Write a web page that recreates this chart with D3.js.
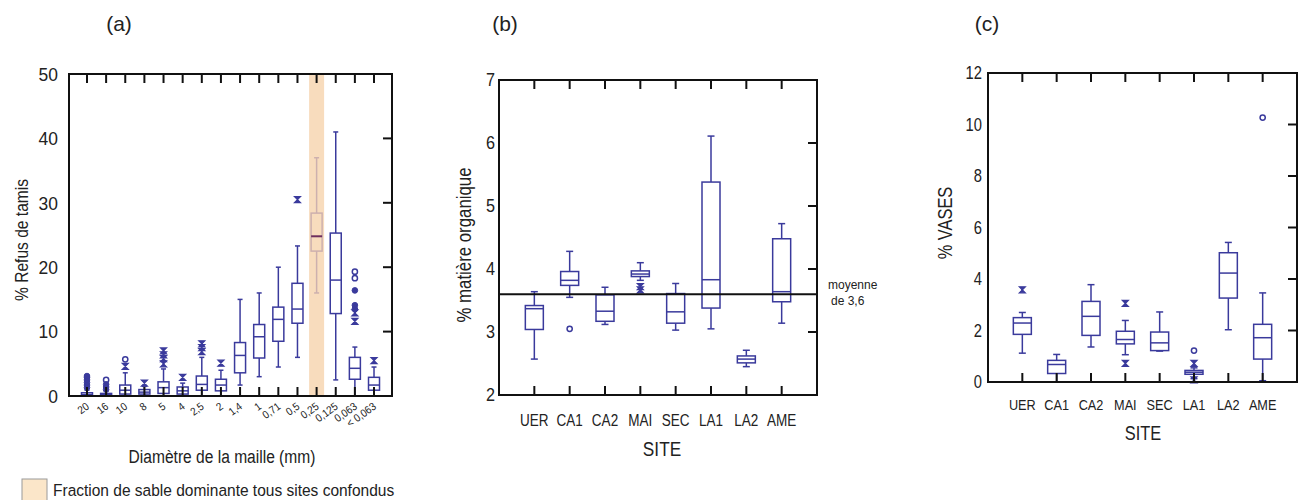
<!DOCTYPE html>
<html><head><meta charset="utf-8">
<script src="https://cdn.jsdelivr.net/npm/d3@7"></script>
<style>
body{margin:0;background:#fff}
text{font-family:"Liberation Sans",Arial,sans-serif;fill:#222}
</style>
</head><body><svg id="chart" width="1299" height="500"></svg>
<script>
// ---------- Panel (a) data : sieve sizes ----------
const sieveSizes = ["20","16","10","8","5","4","2,5","2","1,4","1","0,71","0,5","0,25","0,125","0,063","< 0,063"];
const sieveLow    = [0,   0,   0,   0,   0,   0,   0,   0,   1.7, 3.0, 4.5, 6.0, 16.0, 2.5, 0,   0];
const sieveQ1     = [0,   0,   0.3, 0.3, 0.4, 0.3, 0.9, 0.8, 3.6, 5.9, 8.5, 11.3,22.5, 12.8,2.6, 0.9];
const sieveMedian = [0.2, 0.2, 0.9, 0.6, 1.3, 0.8, 1.8, 1.7, 6.3, 9.2, 11.9,13.5,24.8, 18.0,4.3, 1.7];
const sieveQ3     = [0.5, 0.4, 1.7, 1.0, 2.2, 1.4, 3.1, 2.6, 8.3, 11.1,13.8,17.5,28.4, 25.3,6.0, 2.9];
const sieveHigh   = [0.9, 0.8, 3.6, 1.5, 4.2, 2.0, 6.0, 4.0, 15.0,16.0,20.0,23.3,37.0, 41.0,7.6, 4.5];
const sieveOpenOut   = [[],[2.5],[5.7],[],[],[],[],[],[],[],[],[],[],[],[18.3,19.3],[]];
const sieveFilledOut = [[1.3,1.7,2.1,2.5,2.9,3.1],[1.0,1.4,1.8],[],[],[],[],[],[],[],[],[],[],[],[],[13.5,14.1,16.4],[]];
const sieveCrossOut  = [[],[],[4.6],[2.0],[5.0,5.8,6.4,7.0],[2.9],[6.9,7.5,8.1],[5.1],[],[],[],[30.5],[],[],[11.6,12.9],[5.5]];
const sieveDominant = "0,25";
const sieveTicks = [0,10,20,30,40,50];

// ---------- Panel (b) data : organic matter ----------
const sites = ["UER","CA1","CA2","MAI","SEC","LA1","LA2","AME"];
const omLow    = [2.57,3.55,3.12,3.82,3.03,3.05,2.45,3.14];
const omQ1     = [3.04,3.74,3.17,3.88,3.14,3.38,2.51,3.48];
const omMedian = [3.37,3.82,3.33,3.92,3.32,3.83,2.57,3.64];
const omQ3     = [3.42,3.96,3.59,3.97,3.61,5.38,2.62,4.48];
const omHigh   = [3.64,4.28,3.71,4.10,3.77,6.11,2.71,4.72];
const omOpenOut  = [[],[3.05],[],[],[],[],[],[]];
const omCrossOut = [[],[],[],[3.72,3.67],[],[],[],[]];
const omMean = 3.6;
const omTicks = [2,3,4,5,6,7];

// ---------- Panel (c) data : mud (vases) ----------
const vLow    = [1.12,0.00,1.36,1.06,1.20,0.13,2.03,0.05];
const vQ1     = [1.85,0.33,1.81,1.48,1.22,0.30,3.26,0.89];
const vMedian = [2.29,0.68,2.55,1.65,1.52,0.38,4.23,1.72];
const vQ3     = [2.50,0.84,3.13,1.97,1.94,0.45,5.02,2.24];
const vHigh   = [2.70,1.07,3.78,2.39,2.72,0.55,5.42,3.46];
const vOpenOut  = [[],[],[],[],[],[1.22],[],[10.27]];
const vCrossOut = [[3.58],[],[],[3.05,0.72],[],[0.72,0.08],[],[]];
const vTicks = [0,2,4,6,8,10,12];

const BLUE = "#3a3a9c";
const NARROW = 0.82;
const svg = d3.select("#chart");

// condensed text helper (no narrow font installed -> horizontal scale)
function ntext(parent, x, y, str, size, o = {}) {
  const t = parent.append("text")
    .attr("transform", `translate(${x},${y})${o.rot ? ` rotate(${o.rot})` : ""} scale(${o.sx || NARROW},1)`)
    .attr("text-anchor", o.anchor || "middle").attr("font-size", size).text(str);
  if (o.dy) t.attr("dy", o.dy);
  if (o.fill) t.attr("fill", o.fill);
  return t;
}

function hourglass(g, x, y){
  g.append("path").attr("d", `M${x-3},${y-3}H${x+3}L${x-3},${y+3}H${x+3}Z`)
   .attr("fill", BLUE).attr("stroke", BLUE).attr("stroke-width", 1.2);
}

function panel(o){
  const g = svg.append("g");
  const x = d3.scalePoint().domain(o.cats).range([o.x0, o.x1]).padding(o.pad);
  const y = d3.scaleLinear().domain(o.yDomain).range([o.y1, o.y0]);
  if (o.before) o.before(g, x, y);
  o.cats.forEach((c, i) => {
    const cx = x(c);
    const special = o.special && o.special === c;
    const col = special ? "#cdb0ae" : BLUE;
    const bw = o.boxW, cw = o.capW;
    const bx = g.append("g").attr("fill", "none").attr("stroke", col).attr("stroke-width", 1.5);
    bx.append("line").attr("x1", cx).attr("x2", cx).attr("y1", y(o.q3[i])).attr("y2", y(o.hi[i]));
    bx.append("line").attr("x1", cx).attr("x2", cx).attr("y1", y(o.q1[i])).attr("y2", y(o.lo[i]));
    bx.append("line").attr("x1", cx-cw/2).attr("x2", cx+cw/2).attr("y1", y(o.hi[i])).attr("y2", y(o.hi[i]));
    bx.append("line").attr("x1", cx-cw/2).attr("x2", cx+cw/2).attr("y1", y(o.lo[i])).attr("y2", y(o.lo[i]));
    bx.append("rect").attr("x", cx-bw/2).attr("width", bw)
      .attr("y", y(o.q3[i])).attr("height", Math.max(1, y(o.q1[i]) - y(o.q3[i])))
      .attr("fill", special ? "none" : "#fff");
    bx.append("line").attr("x1", cx-bw/2).attr("x2", cx+bw/2).attr("y1", y(o.med[i])).attr("y2", y(o.med[i]))
      .attr("stroke", special ? "#6e2f5e" : BLUE).attr("stroke-width", special ? 2 : 1.5);
    (o.open[i]||[]).forEach(v => g.append("circle").attr("cx", cx).attr("cy", y(v)).attr("r", 2.6)
      .attr("fill", "#fff").attr("stroke", BLUE).attr("stroke-width", 1.5));
    (o.filled ? o.filled[i] : []).forEach(v => g.append("circle").attr("cx", cx).attr("cy", y(v)).attr("r", 2.8)
      .attr("fill", BLUE).attr("stroke", BLUE));
    (o.cross[i]||[]).forEach(v => hourglass(g, cx, y(v)));
  });
  if (o.after) o.after(g, x, y);
  g.append("rect").attr("x", o.x0).attr("y", o.y0).attr("width", o.x1-o.x0).attr("height", o.y1-o.y0)
    .attr("fill", "none").attr("stroke", "#111").attr("stroke-width", 2);
  const tl = 9;
  o.cats.forEach(c => {
    g.append("line").attr("x1", x(c)).attr("x2", x(c)).attr("y1", o.y0).attr("y2", o.y0+tl).attr("stroke", "#111").attr("stroke-width", 2);
    g.append("line").attr("x1", x(c)).attr("x2", x(c)).attr("y1", o.y1).attr("y2", o.y1-tl).attr("stroke", "#111").attr("stroke-width", 2);
  });
  o.yTicks.forEach(t => {
    g.append("line").attr("x1", o.x1).attr("x2", o.x1-tl).attr("y1", y(t)).attr("y2", y(t)).attr("stroke", "#111").attr("stroke-width", 2);
    ntext(g, o.x0 - o.yLabGap, y(t), t, o.yFont, {anchor: "end", dy: "0.36em", sx: o.ySx || 0.92});
  });
  return {g, x, y};
}

// ---- (a)
const A = panel({
  x0: 69, x1: 392, y0: 74, y1: 396, pad: 0.94, cats: sieveSizes, yDomain: [0,50], yTicks: sieveTicks,
  lo: sieveLow, q1: sieveQ1, med: sieveMedian, q3: sieveQ3, hi: sieveHigh,
  open: sieveOpenOut, filled: sieveFilledOut, cross: sieveCrossOut, special: sieveDominant,
  boxW: 11, capW: 5, yFont: 19, yLabGap: 11, ySx: 0.92,
  before: (g, x, y) => {
    g.append("rect").attr("x", x(sieveDominant)-7.5).attr("width", 15).attr("y", 74).attr("height", 322)
      .attr("fill", "#f8dcbd");
  }
});
sieveSizes.forEach(s => {
  ntext(A.g, A.x(s)+3, 408, s, 11, {rot: -36, anchor: "end", sx: 0.9, fill: "#333"});
});
ntext(svg, 222, 463, "Diamètre de la maille (mm)", 19);
ntext(svg, 21, 240, "% Refus de tamis", 19, {rot: -90, dy: "0.35em"});
svg.append("rect").attr("x", 22).attr("y", 479).attr("width", 25).attr("height", 24).attr("fill", "#fbe6c9").attr("stroke", "#9a9a9a");
ntext(svg, 53, 496, "Fraction de sable dominante tous sites confondus", 16.5, {anchor: "start", sx: 0.94});
svg.append("text").attr("x", 119).attr("y", 31).attr("text-anchor", "middle").attr("font-size", 21).text("(a)");

// ---- (b)
const B = panel({
  x0: 499, x1: 817, y0: 80, y1: 395, pad: 1, cats: sites, yDomain: [2,7], yTicks: omTicks,
  lo: omLow, q1: omQ1, med: omMedian, q3: omQ3, hi: omHigh,
  open: omOpenOut, filled: null, cross: omCrossOut,
  boxW: 18, capW: 7, yFont: 18, yLabGap: 4, ySx: 0.9,
  after: (g, x, y) => {
    g.append("line").attr("x1", 499).attr("x2", 817).attr("y1", y(omMean)).attr("y2", y(omMean))
      .attr("stroke", "#111").attr("stroke-width", 2);
  }
});
sites.forEach(s => ntext(B.g, B.x(s), 426, s, 16.5));
ntext(svg, 662, 456, "SITE", 21);
ntext(svg, 464, 245, "% matière organique", 20.5, {rot: -90, dy: "0.35em"});
svg.append("text").attr("x", 828).attr("y", B.y(omMean) - 5).attr("font-size", 12).attr("fill", "#333").text("moyenne");
svg.append("text").attr("x", 831).attr("y", B.y(omMean) + 11).attr("font-size", 12).attr("fill", "#333").text("de 3,6");
svg.append("text").attr("x", 505).attr("y", 31).attr("text-anchor", "middle").attr("font-size", 21).text("(b)");

// ---- (c)
const C = panel({
  x0: 988, x1: 1297, y0: 73, y1: 382, pad: 1, cats: sites, yDomain: [0,12], yTicks: vTicks,
  lo: vLow, q1: vQ1, med: vMedian, q3: vQ3, hi: vHigh,
  open: vOpenOut, filled: null, cross: vCrossOut,
  boxW: 18, capW: 7, yFont: 18, yLabGap: 6, ySx: 0.82
});
sites.forEach(s => ntext(C.g, C.x(s), 410, s, 15.5));
ntext(svg, 1143, 440, "SITE", 20);
ntext(svg, 945, 223, "% VASES", 20, {rot: -90, dy: "0.35em"});
svg.append("text").attr("x", 987).attr("y", 31).attr("text-anchor", "middle").attr("font-size", 21).text("(c)");
</script></body></html>
